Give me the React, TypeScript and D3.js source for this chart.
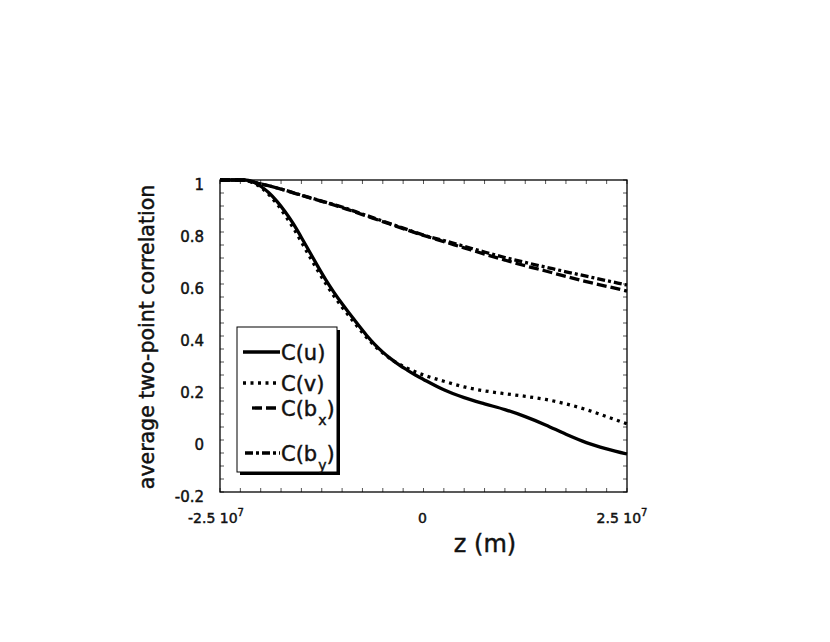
import { useEffect, useRef } from 'react';
import * as d3 from 'd3';

// z positions in units of 1e6 m
const zVel = [-25, -22, -21, -20, -19, -18, -17, -16, -15, -14, -13, -12, -11, -10, -9, -8, -7, -6, -5, -4, -3, -2, -1, 0, 2.5, 5, 7.5, 10, 12.5, 15, 17.5, 20, 22.5, 25];
const cU = [1.0, 1.0, 0.994, 0.976, 0.951, 0.918, 0.878, 0.832, 0.779, 0.724, 0.669, 0.616, 0.568, 0.524, 0.483, 0.442, 0.403, 0.368, 0.338, 0.312, 0.289, 0.269, 0.25, 0.233, 0.193, 0.163, 0.139, 0.117, 0.09, 0.058, 0.022, -0.01, -0.034, -0.054];
const cV = [1.0, 1.0, 0.99, 0.972, 0.944, 0.908, 0.864, 0.816, 0.762, 0.706, 0.652, 0.601, 0.554, 0.511, 0.471, 0.432, 0.395, 0.362, 0.335, 0.311, 0.292, 0.276, 0.262, 0.25, 0.226, 0.204, 0.189, 0.178, 0.168, 0.156, 0.139, 0.117, 0.09, 0.062];

const zMag = [-25, -22.5, -20, -17.5, -15, -12.5, -10, -7.5, -5, -2.5, 0, 2.5, 5, 7.5, 10, 12.5, 15, 17.5, 20, 22.5, 25];
const cBx = [1.0, 1.0, 0.985, 0.965, 0.941, 0.918, 0.894, 0.867, 0.84, 0.813, 0.787, 0.763, 0.739, 0.715, 0.692, 0.67, 0.65, 0.629, 0.609, 0.591, 0.573];
const cBy = [1.0, 1.0, 0.985, 0.965, 0.942, 0.919, 0.896, 0.869, 0.842, 0.815, 0.788, 0.767, 0.745, 0.723, 0.702, 0.683, 0.665, 0.647, 0.63, 0.613, 0.596];

const yLabels = ['-0.2', '0', '0.2', '0.4', '0.6', '0.8', '1'];
const xLabels = [-25, 0, 25];

const FONT = '"DejaVu Sans", sans-serif';

export default function App() {
  const svgRef = useRef<SVGSVGElement>(null);

  useEffect(() => {
    if (!svgRef.current) return;
    const svg = d3.select(svgRef.current);
    svg.selectAll('*').remove();

    const left = 220, right = 627, top = 180, bottom = 492;
    const x = d3.scaleLinear().domain([-25, 25]).range([left, right]);
    const y = d3.scaleLinear().domain([-0.2, 1]).range([bottom, top]);

    const g = svg.append('g');

    // ticks (inward, all four sides)
    const xTicks = d3.range(-25, 25.01, 2.5);
    const yTicks = d3.range(-0.2, 1.001, 0.05);
    const tk = 4;
    const tg = g.append('g');
    tg.append('g').selectAll('line').data(xTicks).enter().append('line')
      .attr('x1', d => x(d)).attr('x2', d => x(d)).attr('y1', bottom).attr('y2', bottom - tk);
    tg.append('g').selectAll('line').data(xTicks).enter().append('line')
      .attr('x1', d => x(d)).attr('x2', d => x(d)).attr('y1', top).attr('y2', top + tk);
    tg.append('g').selectAll('line').data(yTicks).enter().append('line')
      .attr('x1', left).attr('x2', left + tk).attr('y1', d => y(d)).attr('y2', d => y(d));
    tg.append('g').selectAll('line').data(yTicks).enter().append('line')
      .attr('x1', right).attr('x2', right - tk).attr('y1', d => y(d)).attr('y2', d => y(d));
    tg.selectAll('line').attr('stroke', '#555').attr('stroke-width', 1);

    // text helper: heavier look like the reference
    const txt = (sel: any, size: number) =>
      sel.attr('font-family', FONT).attr('font-size', size)
        .attr('fill', '#111').attr('stroke', '#111').attr('stroke-width', 0.45);

    // y tick labels
    txt(g.append('g').selectAll('text').data(yLabels).enter().append('text')
      .attr('x', left - 16).attr('y', d => y(+d) + 5)
      .attr('text-anchor', 'end')
      .attr('dominant-baseline', 'middle')
      .text(d => d), 15);

    // x tick labels
    const xl = g.append('g').selectAll('text').data(xLabels).enter().append('text')
      .attr('x', d => x(d) + (d === 0 ? -1 : d < 0 ? -4 : -5))
      .attr('y', 523)
      .attr('text-anchor', 'middle');
    txt(xl, 14);
    xl.each(function (d) {
      const t = d3.select(this);
      if (d === 0) { t.text('0'); return; }
      t.append('tspan').text(`${d < 0 ? '-' : ''}2.5 10`);
      t.append('tspan').attr('dy', -7).attr('font-size', 10).text('7');
    });

    // axis titles
    txt(g.append('text')
      .attr('x', 485).attr('y', 552)
      .attr('text-anchor', 'middle')
      .text('z (m)'), 24);
    txt(g.append('text')
      .attr('transform', `translate(154,${(top + bottom) / 2 + 1}) rotate(-90)`)
      .attr('text-anchor', 'middle')
      .text('average two-point correlation'), 20.5);

    // curves
    const series = [
      { z: zVel, v: cU, dash: null, w: 3.3 },
      { z: zVel, v: cV, dash: '3,4.5', w: 3.3 },
      { z: zMag, v: cBx, dash: '10,4', w: 3.3 },
      { z: zMag, v: cBy, dash: '8,3,3,3', w: 3.3 },
    ];
    const line = d3.line<[number, number]>()
      .x(d => x(d[0])).y(d => y(d[1]))
      .curve(d3.curveMonotoneX);
    series.forEach(s => {
      const pts = s.z.map((z, i) => [z, s.v[i]] as [number, number]);
      g.append('path')
        .attr('d', line(pts))
        .attr('fill', 'none').attr('stroke', '#000')
        .attr('stroke-width', s.w)
        .attr('stroke-dasharray', s.dash)
        .attr('stroke-linejoin', 'round');
    });

    // frame
    g.append('rect')
      .attr('x', left).attr('y', top).attr('width', right - left).attr('height', bottom - top)
      .attr('fill', 'none').attr('stroke', '#000').attr('stroke-width', 1.3);

    // legend
    const lg = g.append('g');
    const lx = 237, ly = 327, lw = 100, lh = 145;
    lg.append('rect').attr('x', lx + 3).attr('y', ly + 3).attr('width', lw).attr('height', lh).attr('fill', '#000');
    lg.append('rect').attr('x', lx).attr('y', ly).attr('width', lw).attr('height', lh)
      .attr('fill', '#fff').attr('stroke', '#000').attr('stroke-width', 1);
    const items = [
      { name: 'C(u)', sub: '', dash: null, x0: 243, yy: 352 },
      { name: 'C(v)', sub: '', dash: '3,4.5', x0: 243, yy: 383 },
      { name: 'C(b', sub: 'x', dash: '10,4', x0: 252, yy: 408 },
      { name: 'C(b', sub: 'y', dash: '8,3,3,3', x0: 245, yy: 453 },
    ];
    items.forEach(it => {
      lg.append('line')
        .attr('x1', it.x0).attr('x2', 280).attr('y1', it.yy).attr('y2', it.yy)
        .attr('stroke', '#000').attr('stroke-width', 3.3)
        .attr('stroke-dasharray', it.dash);
      const t = lg.append('text')
        .attr('x', 281).attr('y', it.yy + 7.5);
      txt(t, 21);
      t.append('tspan').text(it.name);
      if (it.sub) {
        t.append('tspan').attr('dy', 9).attr('dx', 1).attr('font-size', 14).text(it.sub);
        t.append('tspan').attr('dy', -9).attr('dx', 0).text(')');
      }
    });
  }, []);

  return (
    <svg
      ref={svgRef}
      width={830}
      height={642}
      style={{ position: 'absolute', left: 0, top: 0, background: '#fff' }}
    />
  );
}
